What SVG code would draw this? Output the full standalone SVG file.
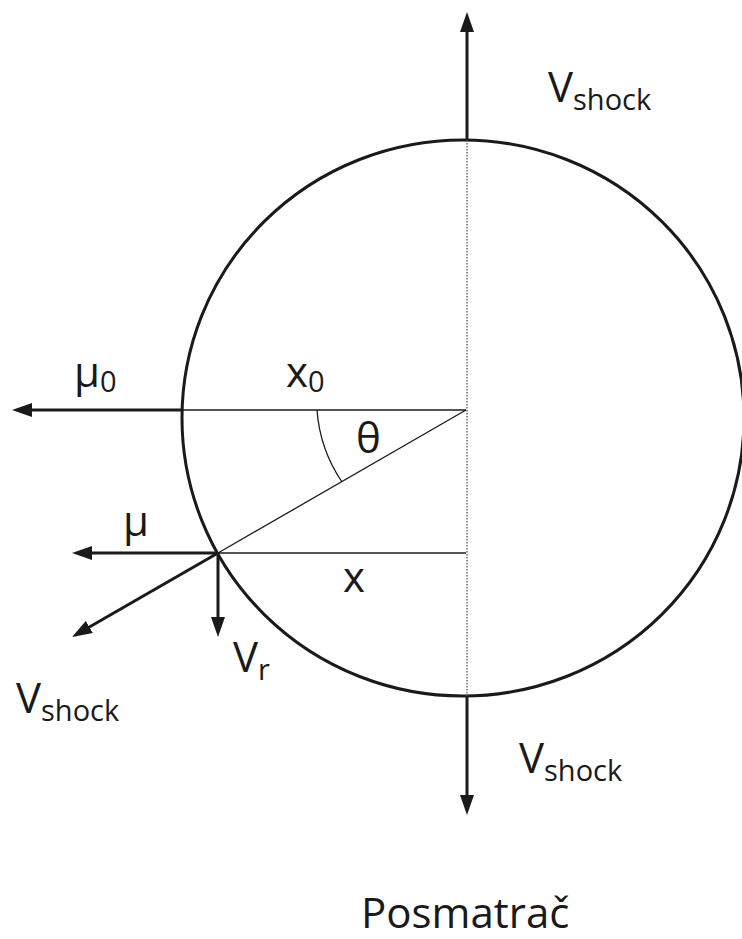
<svg xmlns="http://www.w3.org/2000/svg" width="742" height="939" viewBox="0 0 742 939">
<style>
text{font-family:"Open Sans","Liberation Sans",sans-serif;fill:#1a1a1a;font-size:42px}
.sub{font-size:29px}
.thick{stroke:#1a1a1a;stroke-width:3;fill:none}
.thin{stroke:#1a1a1a;stroke-width:1.3;fill:none}
.arr{marker-end:url(#ah)}
</style>
<defs>
<marker id="ah" viewBox="0 0 20 14" refX="10" refY="7" markerWidth="20" markerHeight="14" markerUnits="userSpaceOnUse" orient="auto">
<path d="M0,0 L20,7 L0,14 z" fill="#1a1a1a"/>
</marker>
</defs>
<rect width="742" height="939" fill="#fff"/>
<g id="circle">
<ellipse cx="463" cy="418" rx="281" ry="278" class="thick"/>
</g>
<g id="construction">
<line x1="467" y1="140" x2="467" y2="696" stroke="#555" stroke-width="1.3" stroke-dasharray="1.5,1.5"/>
<line x1="182" y1="410" x2="466" y2="410" class="thin"/>
<line x1="218" y1="553" x2="466" y2="553" class="thin"/>
<line x1="218" y1="553" x2="466" y2="410" class="thin"/>
<path d="M317,410 A148,148 0 0 0 342,482" class="thin"/>
</g>
<g id="connectors">
<line x1="182" y1="410" x2="22" y2="410" class="thick arr"/>
<line x1="218" y1="553" x2="82" y2="553" class="thick arr"/>
<line x1="218" y1="553" x2="80.7" y2="632" class="thick arr"/>
<line x1="218" y1="553" x2="218" y2="627" class="thick arr"/>
<line x1="467" y1="140" x2="467" y2="22" class="thick arr"/>
<line x1="467" y1="696" x2="467" y2="805" class="thick arr"/>
</g>
<g id="labels">
<text id="mu0" x="74" y="387">μ<tspan class="sub" dy="5">0</tspan></text>
<text id="x0" x="286" y="387">x<tspan class="sub" dy="5">0</tspan></text>
<text id="theta" x="356" y="453">θ</text>
<text id="mu" x="123" y="536">μ</text>
<text id="x" x="343" y="592">x</text>
<text id="vr" x="233" y="672">V<tspan class="sub" dy="8">r</tspan></text>
<text id="vshock-top" x="548" y="102">V<tspan class="sub" dy="8">shock</tspan></text>
<text id="vshock-left" x="16" y="713">V<tspan class="sub" dy="8">shock</tspan></text>
<text id="vshock-bottom" x="519" y="773">V<tspan class="sub" dy="8">shock</tspan></text>
<text id="observer" x="361" y="928">Posmatrač</text>
</g>
</svg>
